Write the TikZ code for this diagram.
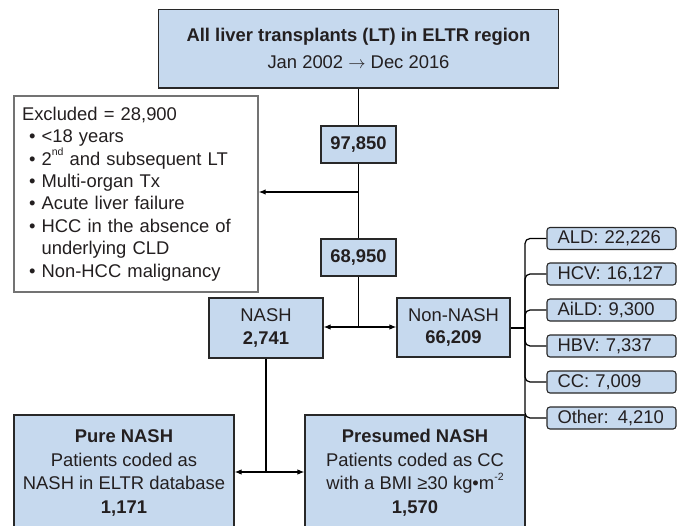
\documentclass[tikz,border=0pt]{standalone}
\usepackage{fontspec}
\setmainfont{Liberation Sans}
\usetikzlibrary{arrows.meta}
\definecolor{boxfill}{RGB}{198,217,238}
\definecolor{boxline}{RGB}{40,40,40}
\definecolor{txt}{RGB}{35,31,32}
\definecolor{exline}{RGB}{115,115,115}
\newcommand\blt{\hspace*{7pt}•\ }
\newcommand\bltind{\hspace*{7pt}\phantom{•}\ }
\newcommand\supsmall[1]{\raisebox{0.5em}{\fontsize{10.5}{10.5}\selectfont #1}}
\begin{document}
\begin{tikzpicture}[x=1pt,y=-1pt,
  bluebox/.style={draw=boxline, fill=boxfill, line width=1.2pt, inner sep=0pt, align=center, text=txt, font=\fontsize{18.4}{22.4}\selectfont},
  numbox/.style={bluebox, minimum width=75pt, minimum height=37pt, font=\fontsize{18.4}{22.4}\selectfont\bfseries},
  bigbox/.style={bluebox, minimum width=220pt, minimum height=116pt, font=\fontsize{18.4}{23.5}\selectfont},
  smallbox/.style={draw=boxline, fill=boxfill, line width=1.1pt, rounded corners=3pt, text=txt, font=\fontsize{18.4}{21}\selectfont, text width=108pt, inner xsep=10.5pt, inner ysep=0pt, minimum height=22pt, align=left},
  exclbox/.style={draw=exline, fill=white, line width=1.4pt, text=txt, font=\fontsize{18.4}{22.4}\selectfont, text width=228pt, inner xsep=8pt, inner ysep=0pt, minimum height=196pt, align=left},
  conn/.style={line width=1.2pt, draw=black},
  arr/.style={conn, -{Latex[length=7pt,width=5.5pt]}}]
\clip (0,0) rectangle (684,526);
\fill[white] (0,0) rectangle (684,526);

\node[bluebox, minimum width=400pt, minimum height=78.5pt, font=\fontsize{18.4}{27}\selectfont] (top) at (358.5,48.75)
  {\textbf{All liver transplants (LT) in ELTR region}\\Jan 2002 \(\rightarrow\) Dec 2016};
\node[numbox] (n1) at (358.5,144.5) {97,850};
\node[numbox] (n2) at (358.5,257.5) {68,950};
\node[exclbox] (excl) at (136,194) {Excluded = 28,900\\
  \blt <18 years\\
  \blt 2\supsmall{nd} and subsequent LT\\
  \blt Multi-organ Tx\\
  \blt Acute liver failure\\
  \blt HCC in the absence of\\
  \bltind underlying CLD\\
  \blt Non-HCC malignancy};
\node[bluebox, minimum width=114pt, minimum height=60pt] (nash) at (266,328) {NASH\\\textbf{2,741}};
\node[bluebox, minimum width=113pt, minimum height=59pt] (nonnash) at (453.5,327.5) {Non-NASH\\\textbf{66,209}};
\node[bigbox] (pure) at (124,473) {\textbf{Pure NASH}\\Patients coded as\\NASH in ELTR database\\\textbf{1,171}};
\node[bigbox] (pres) at (415,473) {\textbf{Presumed NASH}\\Patients coded as CC\\with a BMI ≥30 kg•m\supsmall{-2}\\\textbf{1,570}};

\node[smallbox] (ald) at (611.5,238.5) {ALD: 22,226};
\node[smallbox] (hcv) at (611.5,274) {HCV: 16,127};
\node[smallbox] (aild) at (611.5,310) {AiLD: 9,300};
\node[smallbox] (hbv) at (611.5,346) {HBV: 7,337};
\node[smallbox] (cc) at (611.5,382) {CC: 7,009};
\node[smallbox] (other) at (611.5,418) {Other: 4,210};

\coordinate (j1) at (358.5,192);
\coordinate (j2) at (358.5,327);
\coordinate (j3) at (266,472);
\coordinate (br) at (525,328);

\draw[conn] (top) -- (n1);
\draw[conn] (n1) -- (n2);
\draw[arr] (j1) -- (j1 -| excl.east);
\draw[conn] (n2) -- (j2);
\draw[arr] (j2) -- (j2 -| nash.east);
\draw[arr] (j2) -- (j2 -| nonnash.west);
\draw[conn] (nash) -- (j3);
\draw[arr] (j3) -- (j3 -| pure.east);
\draw[arr] (j3) -- (j3 -| pres.west);
\draw[conn] (nonnash.east |- br) -- (br);
\foreach \b in {ald,hcv,aild,hbv,cc,other}{
  \draw[conn, rounded corners=5pt] (br) |- (\b.west);
}
\end{tikzpicture}
\end{document}
